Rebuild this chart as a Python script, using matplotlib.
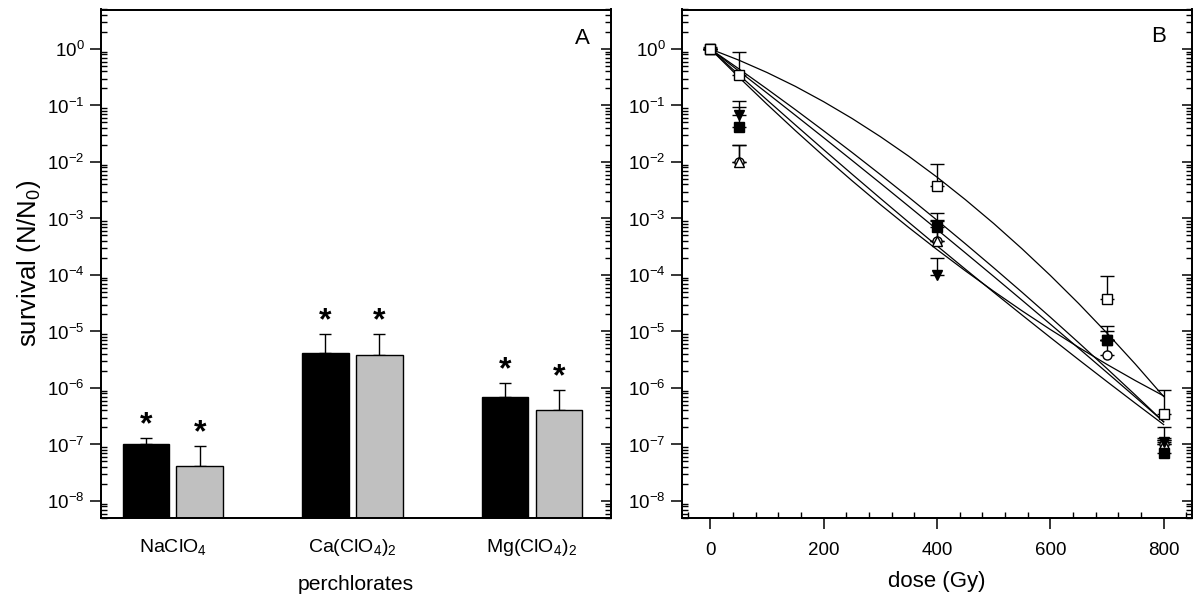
import numpy as np
import matplotlib
matplotlib.use('Agg')
import matplotlib.pyplot as plt
from matplotlib.ticker import FixedLocator, LogLocator, NullFormatter, MultipleLocator, NullLocator

plt.rcParams['font.family'] = ['Liberation Sans', 'DejaVu Sans']
plt.rcParams['mathtext.fontset'] = 'custom'
plt.rcParams['mathtext.rm'] = 'Liberation Sans'
plt.rcParams['mathtext.it'] = 'Liberation Sans:italic'
plt.rcParams['mathtext.bf'] = 'Liberation Sans:bold'

# ---------------- Panel A data ----------------
salts = ['NaClO$_4$', 'Ca(ClO$_4$)$_2$', 'Mg(ClO$_4$)$_2$']
black_vals = [1.0e-7, 4.1e-6, 7.0e-7]
black_err_top = [1.32e-7, 9.2e-6, 1.22e-6]
gray_vals = [4.1e-8, 3.8e-6, 4.1e-7]
gray_err_top = [9.4e-8, 9.2e-6, 9.3e-7]

# ---------------- Panel B data ----------------
doses = [0, 50, 400, 700, 800]
open_square = [1.0, 0.34, 3.8e-3, 3.8e-5, 3.5e-7]
open_square_err = [1.1, 0.9, 9.3e-3, 9.5e-5, 9.1e-7]
filled_square = [1.0, 0.041, 7.0e-4, 7.2e-6, 7.2e-8]
filled_square_err = [1.0, 0.093, 1.25e-3, 1.24e-5, 2.0e-7]
open_circle = [1.0, 0.0102, 4.0e-4, 3.8e-6, 1.0e-7]
open_circle_err = [1.0, 0.0196, 9.5e-4, 1.0e-5, 1.2e-7]
open_triangle = [1.0, 0.0102, 4.0e-4, 7.0e-6, 1.0e-7]
open_triangle_err = [1.0, 0.0196, 9.0e-4, 7.0e-6, 1.2e-7]
filled_triangle = [1.0, 0.068, 1.0e-4, 7.0e-6, 1.1e-7]
filled_triangle_err = [1.0, 0.122, 2.0e-4, 7.0e-6, 1.3e-7]

# fitted curves (log10 survival every 50 Gy)
fit_doses = [0, 50, 100, 150, 200, 250, 300, 350, 400, 450, 500, 550, 600, 650, 700, 750, 800]
fit1_log = [0, -0.196, -0.416, -0.661, -0.933, -1.229, -1.551, -1.897, -2.268,
            -2.666, -3.088, -3.536, -4.008, -4.505, -5.029, -5.577, -6.151]
fit2_log = [0, -0.496, -0.978, -1.444, -1.895, -2.331, -2.753, -3.159, -3.550,
            -3.926, -4.288, -4.634, -4.965, -5.281, -5.583, -5.869, -6.140]
fit3_log = [0, -0.349, -0.707, -1.073, -1.448, -1.830, -2.222, -2.622, -3.030,
            -3.447, -3.872, -4.305, -4.747, -5.198, -5.657, -6.124, -6.600]
fit4_log = [0, -0.388, -0.779, -1.173, -1.570, -1.971, -2.375, -2.783, -3.194,
            -3.608, -4.025, -4.446, -4.870, -5.297, -5.727, -6.161, -6.598]
fit5_log = [0, -0.453, -0.901, -1.344, -1.782, -2.215, -2.643, -3.066, -3.484,
            -3.897, -4.305, -4.708, -5.106, -5.499, -5.887, -6.270, -6.648]

ytick_exps = [0, -1, -2, -3, -4, -5, -6, -7, -8]

W, H = 1199, 603
fig = plt.figure(figsize=(W / 100, H / 100), dpi=100)
bottom = (H - 518) / H
height = (518 - 9.5) / H
axA = fig.add_axes([101 / W, bottom, 510 / W, height])
axB = fig.add_axes([682 / W, bottom, 510 / W, height])

FS = 13.5
spine_lw = 1.3


def style_log_y(ax):
    ax.set_yscale('log')
    ax.set_ylim(5e-9, 5)
    ax.yaxis.set_major_locator(FixedLocator([10.0 ** e for e in ytick_exps]))
    ax.set_yticklabels(['$10^{%d}$' % e for e in ytick_exps])
    ax.yaxis.set_minor_locator(LogLocator(base=10, subs=np.arange(2, 10), numticks=100))
    ax.yaxis.set_minor_formatter(NullFormatter())
    ax.tick_params(axis='y', which='major', direction='out', length=8, width=1.1,
                   labelsize=FS, pad=4, right=False)
    ax.tick_params(axis='y', which='minor', direction='in', length=4.5, width=1.0, right=False)
    for s in ax.spines.values():
        s.set_linewidth(spine_lw)
    # right-side ticks, all inward
    tw = ax.twinx()
    tw.set_yscale('log')
    tw.set_ylim(5e-9, 5)
    tw.yaxis.set_major_locator(FixedLocator([10.0 ** e for e in ytick_exps]))
    tw.yaxis.set_minor_locator(LogLocator(base=10, subs=np.arange(2, 10), numticks=100))
    tw.yaxis.set_major_formatter(NullFormatter())
    tw.yaxis.set_minor_formatter(NullFormatter())
    tw.tick_params(axis='y', which='major', direction='in', length=7, width=1.1)
    tw.tick_params(axis='y', which='minor', direction='in', length=4.5, width=1.0)
    for s in tw.spines.values():
        s.set_linewidth(spine_lw)
    return tw


# ---------------- Panel A ----------------
x = np.arange(1, len(salts) + 1)
bw = 0.26
off = 0.15
xb = x - off
xg = x + off
axA.bar(xb, black_vals, width=bw, color='black', edgecolor='black', linewidth=1.0, zorder=2)
axA.bar(xg, gray_vals, width=bw, color='#c0c0c0', edgecolor='black', linewidth=1.0, zorder=2)
bv = np.array(black_vals)
gv = np.array(gray_vals)
axA.errorbar(xb, bv, yerr=[np.zeros_like(bv), np.array(black_err_top) - bv], fmt='none',
             ecolor='black', elinewidth=1.0, capsize=4, capthick=1.0, zorder=1)
axA.errorbar(xg, gv, yerr=[np.zeros_like(gv), np.array(gray_err_top) - gv], fmt='none',
             ecolor='black', elinewidth=1.0, capsize=4, capthick=1.0, zorder=1)
for xi, et in zip(list(xb) + list(xg), black_err_top + gray_err_top):
    axA.annotate('*', xy=(xi, et), xytext=(0, 9), textcoords='offset points',
                 ha='center', va='center', fontsize=23, fontweight='bold')
axA.set_xlim(0.6, 3.44)
axA.set_xticks(x)
axA.set_xticklabels(salts)
axA.tick_params(axis='x', which='both', length=0, labelsize=14, pad=14)
axA.xaxis.set_minor_locator(NullLocator())
style_log_y(axA)
axA.set_xlabel('perchlorates', fontsize=15.2, labelpad=12)
axA.set_ylabel('survival (N/N$_0$)', fontsize=18.5, labelpad=3)
axA.text(0.943, 0.942, 'A', transform=axA.transAxes, ha='center', va='center', fontsize=16)

# ---------------- Panel B ----------------
for fl in [fit1_log, fit2_log, fit3_log, fit4_log, fit5_log]:
    axB.plot(fit_doses, [10.0 ** v for v in fl], color='black', lw=0.9, zorder=1)

series = [
    (open_circle, open_circle_err, 'o', 'white'),
    (open_triangle, open_triangle_err, '^', 'white'),
    (filled_triangle, filled_triangle_err, 'v', 'black'),
    (filled_square, filled_square_err, 's', 'black'),
    (open_square, open_square_err, 's', 'white'),
]
for vals, errs, mk, fc in series:
    v = np.array(vals)
    e = np.array(errs)
    axB.errorbar(doses, v, yerr=[np.zeros_like(v), np.maximum(e - v, 0)], fmt='none',
                 ecolor='black', elinewidth=1.0, capsize=5, capthick=1.0, zorder=2)
for z, (vals, errs, mk, fc) in enumerate(series):
    axB.plot(doses, vals, linestyle='none', marker=mk, markersize=6.5, markerfacecolor=fc,
             markeredgecolor='black', markeredgewidth=1.0, zorder=3 + z)

axB.set_xlim(-50, 850)
axB.xaxis.set_major_locator(FixedLocator([0, 200, 400, 600, 800]))
axB.xaxis.set_minor_locator(MultipleLocator(40))
axB.tick_params(axis='x', which='major', direction='out', length=8, width=1.1, labelsize=FS, pad=9)
axB.tick_params(axis='x', which='minor', direction='in', length=4.5, width=1.0)
style_log_y(axB)
axB.set_xlabel('dose (Gy)', fontsize=16, labelpad=9)
axB.text(0.935, 0.946, 'B', transform=axB.transAxes, ha='center', va='center', fontsize=16)

fig.savefig('out.png', dpi=100)
